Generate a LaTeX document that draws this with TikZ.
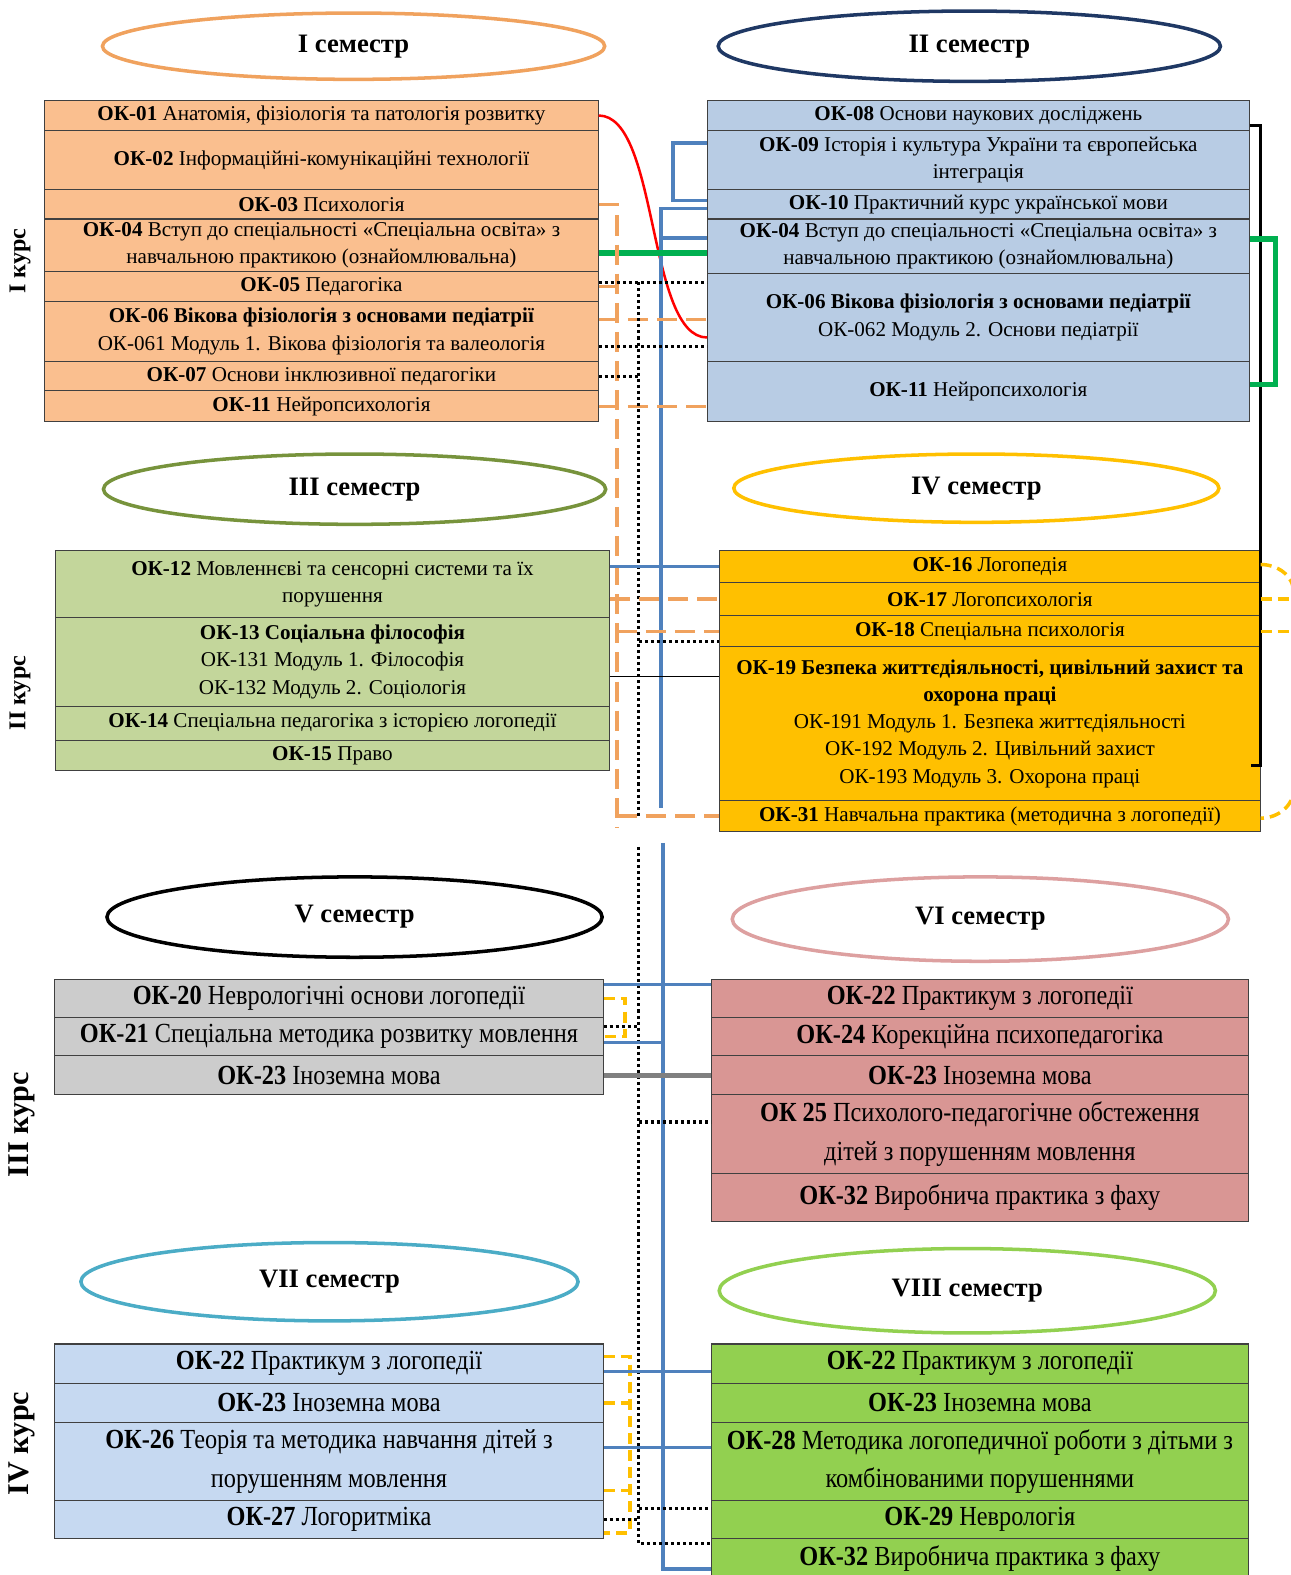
\documentclass[tikz,border=0pt]{standalone}
\usepackage{fontspec}
\setmainfont{Liberation Serif}
\newfontfamily\narrowserif{Liberation Serif}[FakeStretch=0.88]
\usetikzlibrary{shapes.geometric}
\definecolor{orFill}{HTML}{FABF8F}
\definecolor{orLine}{HTML}{F0A25E}
\definecolor{navyLine}{HTML}{1F3864}
\definecolor{bluFill}{HTML}{B8CCE4}
\definecolor{grnFill}{HTML}{C3D69B}
\definecolor{oliveLine}{HTML}{77933C}
\definecolor{gold}{HTML}{FFC000}
\definecolor{gryFill}{HTML}{CCCCCC}
\definecolor{pinkFill}{HTML}{D99694}
\definecolor{pinkLine}{HTML}{DDA0A0}
\definecolor{ltbFill}{HTML}{C6D9F1}
\definecolor{tealLine}{HTML}{4BACC6}
\definecolor{limeFill}{HTML}{92D050}
\definecolor{linkBlue}{HTML}{4F81BD}
\definecolor{linkGreen}{HTML}{00B050}
\newcommand\smallrow{\fontsize{21}{27}\selectfont}
\newcommand\bigrow{\narrowserif\fontsize{27.5}{38.5}\selectfont}
\begin{document}
\begin{tikzpicture}[x=1pt,y=-1pt,
    row/.style={draw=black!75, line width=1.2pt, outer sep=0pt, inner sep=0pt, align=center},
    tabI/.style={row, fill=orFill, minimum width=552pt, font=\smallrow},
    tabII/.style={row, fill=bluFill, minimum width=540pt, font=\smallrow},
    tabIII/.style={row, fill=grnFill, minimum width=552pt, font=\smallrow},
    tabIV/.style={row, fill=gold, minimum width=539pt, font=\smallrow},
    tabV/.style={row, fill=gryFill, minimum width=547pt, font=\bigrow},
    tabVI/.style={row, fill=pinkFill, minimum width=535pt, font=\bigrow},
    tabVII/.style={row, fill=ltbFill, minimum width=547pt, font=\bigrow},
    tabVIII/.style={row, fill=limeFill, minimum width=535pt, font=\bigrow},
    sem/.style={ellipse, line width=3.5pt, inner sep=0pt, font=\fontsize{26.5}{30}\selectfont\bfseries},
    kurs/.style={rotate=90, font=\fontsize{24}{24}\selectfont\bfseries},
    bigkurs/.style={rotate=90, font=\fontsize{30}{30}\selectfont\bfseries},
    blueln/.style={draw=linkBlue, line width=3.5pt},
    dotln/.style={draw=black, line width=3pt, dash pattern=on 3pt off 3pt},
    orln/.style={draw=orLine, line width=3.5pt, dash pattern=on 20pt off 9pt},
    yelln/.style={draw=gold, line width=3.5pt, dash pattern=on 11pt off 6pt}]
  \useasboundingbox (0,0) rectangle (1285,1568);

  % I курс
  \node[sem, draw=orLine, minimum width=500pt, minimum height=66pt] (sem1) at (352,46) {I семестр};
  \node[sem, draw=navyLine, minimum width=500pt, minimum height=70pt] (sem2) at (965,46) {II семестр};
  \node[kurs] (k1) at (20,260) {I курс};

  \node[tabI, minimum height=30pt] (l01) at (320,115) {\textbf{ОК-01} Анатомія, фізіологія  та патологія розвитку};
  \node[tabI, minimum height=59pt] (l02) at (320,159.5) {\textbf{ОК-02} Інформаційні-комунікаційні технології};
  \node[tabI, minimum height=29pt] (l03) at (320,203.5) {\textbf{ОК-03} Психологія};
  \node[tabI, minimum height=52pt] (l04) at (320,244) {\textbf{ОК-04} Вступ до спеціальності «Спеціальна освіта» з\\навчальною практикою (ознайомлювальна)};
  \node[tabI, minimum height=30pt] (l05) at (320,285) {\textbf{ОК-05} Педагогіка};
  \node[tabI, minimum height=60pt] (l06) at (320,330) {\textbf{ОК-06 Вікова фізіологія з основами педіатрії}\\ОК-061 Модуль 1. Вікова фізіологія та валеологія};
  \node[tabI, minimum height=29pt] (l07) at (320,374.5) {\textbf{ОК-07} Основи інклюзивної педагогіки};
  \node[tabI, minimum height=31pt] (l11) at (320,404.5) {\textbf{ОК-11} Нейропсихологія};

  \node[tabII, minimum height=30pt] (r08) at (974,115) {\textbf{ОК-08} Основи наукових досліджень};
  \node[tabII, minimum height=59pt] (r09) at (974,159.5) {\textbf{ОК-09} Історія і культура України та європейська\\інтеграція};
  \node[tabII, minimum height=29pt] (r10) at (974,203.5) {\textbf{ОК-10} Практичний курс української мови};
  \node[tabII, minimum height=54pt] (r04) at (974,245) {\textbf{ОК-04} Вступ до спеціальності «Спеціальна освіта» з\\навчальною практикою (ознайомлювальна)};
  \node[tabII, minimum height=88pt] (r06) at (974,316) {\textbf{ОК-06 Вікова фізіологія з основами педіатрії}\\ОК-062 Модуль 2. Основи педіатрії};
  \node[tabII, minimum height=60pt] (r11) at (974,390) {\textbf{ОК-11} Нейропсихологія};

  % II курс
  \node[sem, draw=oliveLine, minimum width=500pt, minimum height=70pt] (sem3) at (353,487) {III семестр};
  \node[sem, draw=gold, minimum width=483pt, minimum height=68pt] (sem4) at (972,486) {IV семестр};
  \node[kurs] (k2) at (20,690) {II курс};

  \node[tabIII, minimum height=67pt] (m12) at (331,581.5) {\textbf{ОК-12} Мовленнєві та сенсорні системи та їх\\порушення};
  \node[tabIII, minimum height=88pt] (m13) at (331,659) {\textbf{ОК-13 Соціальна філософія}\\ОК-131 Модуль 1. Філософія\\ОК-132 Модуль 2. Соціологія};
  \node[tabIII, minimum height=34pt] (m14) at (331,720) {\textbf{ОК-14} Спеціальна педагогіка  з історією логопедії};
  \node[tabIII, minimum height=30pt] (m15) at (331,752) {\textbf{ОК-15} Право};

  \node[tabIV, minimum height=32pt] (r16) at (985.5,564) {\textbf{ОК-16} Логопедія};
  \node[tabIV, minimum height=33pt] (r17) at (985.5,596.5) {\textbf{ОК-17} Логопсихологія};
  \node[tabIV, minimum height=31pt] (r18) at (985.5,628.5) {\textbf{ОК-18} Спеціальна психологія};
  \node[tabIV, minimum height=153pt] (r19) at (985.5,720.5) {\textbf{ОК-19 Безпека життєдіяльності, цивільний захист та}\\\textbf{охорона праці}\\ОК-191 Модуль 1. Безпека життєдіяльності\\ОК-192 Модуль 2. Цивільний захист\\ОК-193 Модуль 3. Охорона праці};
  \node[tabIV, minimum height=31pt] (r31) at (985.5,812.5) {\textbf{ОК-31} Навчальна практика (методична з логопедії)};

  % III курс
  \node[sem, draw=black, minimum width=493pt, minimum height=80pt] (sem5) at (353,913) {V семестр};
  \node[sem, draw=pinkLine, minimum width=494pt, minimum height=84pt] (sem6) at (976,915) {VI семестр};
  \node[bigkurs] (k3) at (22,1120) {III курс};

  \node[tabV, minimum height=38pt] (s20) at (327.5,994) {\textbf{ОК-20} Неврологічні основи логопедії};
  \node[tabV, minimum height=38pt] (s21) at (327.5,1032) {\textbf{ОК-21} Спеціальна методика розвитку мовлення};
  \node[tabV, minimum height=39pt] (s23) at (327.5,1070.5) {\textbf{ОК-23} Іноземна мова};

  \node[tabVI, minimum height=38pt] (t22) at (975.5,994) {\textbf{ОК-22} Практикум з логопедії};
  \node[tabVI, minimum height=38pt] (t24) at (975.5,1032) {\textbf{ОК-24} Корекційна психопедагогіка};
  \node[tabVI, minimum height=39pt] (t23) at (975.5,1070.5) {\textbf{ОК-23} Іноземна мова};
  \node[tabVI, minimum height=78pt] (t25) at (975.5,1129) {\textbf{ОК 25} Психолого-педагогічне обстеження\\дітей з порушенням мовлення};
  \node[tabVI, minimum height=48pt] (t32) at (975.5,1192) {\textbf{ОК-32} Виробнича практика з фаху};

  % IV курс
  \node[sem, draw=tealLine, minimum width=495pt, minimum height=78pt] (sem7) at (328,1276) {VII семестр};
  \node[sem, draw=limeFill, minimum width=494pt, minimum height=84pt] (sem8) at (963,1285) {VIII семестр};
  \node[bigkurs] (k4) at (22,1437) {IV курс};

  \node[tabVII, minimum height=39pt] (u22) at (327.5,1357.5) {\textbf{ОК-22} Практикум з логопедії};
  \node[tabVII, minimum height=39pt] (u23) at (327.5,1396.5) {\textbf{ОК-23} Іноземна мова};
  \node[tabVII, minimum height=78pt] (u26) at (327.5,1455) {\textbf{ОК-26} Теорія та методика навчання дітей з\\порушенням мовлення};
  \node[tabVII, minimum height=38pt] (u27) at (327.5,1513) {\textbf{ОК-27} Логоритміка};

  \node[tabVIII, minimum height=39pt] (v22) at (975.5,1357.5) {\textbf{ОК-22} Практикум з логопедії};
  \node[tabVIII, minimum height=39pt] (v23) at (975.5,1396.5) {\textbf{ОК-23} Іноземна мова};
  \node[tabVIII, minimum height=78pt] (v28) at (975.5,1455) {\textbf{ОК-28} Методика логопедичної роботи з дітьми з\\комбінованими порушеннями};
  \node[tabVIII, minimum height=38pt] (v29) at (975.5,1513) {\textbf{ОК-29} Неврологія};
  \node[tabVIII, minimum height=40pt] (v32) at (975.5,1552) {\textbf{ОК-32} Виробнича практика з фаху};

  % trunk ends
  \coordinate (ov) at (614,824);
  \coordinate (dv1) at (636,814);
  \coordinate (bv1) at (658,804);
  \coordinate (dv2top) at (636,843);
  \coordinate (bv2top) at (660,839);

  % links, first year
  \draw[red, line width=2.5pt] (l01.east) .. controls +(60,0) and +(-60,0) .. ([yshift=-20pt]r06.west);
  \draw[blueln] ([yshift=17pt]r09.west) -- ++(-34,0) |- ([yshift=4pt]r10.west);
  \draw[blueln] ([yshift=-4pt]r10.west) -| (bv1);
  \draw[blueln] ([yshift=8pt]r04.west) -- ([yshift=8pt]r04.west -| bv1);
  \draw[linkGreen, line width=5.5pt] ([yshift=-8pt]l04.east) -- ([yshift=-8pt]l04.east -| r04.west);
  \draw[orln] (l03.east) -- (l03.east -| ov) -- (ov);
  \draw[orln] (l05.east) -- (l05.east -| ov);
  \draw[orln] ([yshift=12pt]l06.east) -- ([yshift=12pt]l06.east -| r06.west);
  \draw[orln] (l11.east) -- (l11.east -| r11.west);
  \draw[dotln] ([yshift=4pt]l05.east) -- ([yshift=4pt]l05.east -| r06.west);
  \draw[dotln] ([yshift=4pt]l05.east -| dv1) -- (dv1);
  \draw[dotln] ([yshift=-15pt]l06.east) -- ([yshift=-15pt]l06.east -| r06.west);
  \draw[dotln] (l07.east) -- (l07.east -| dv1);
  \draw[black, line width=3pt] ([yshift=-10pt]r08.east) -- ([yshift=-10pt]r08.east -| r19.east) -- ([yshift=-42pt]r19.east) -- ++(-10,0);
  \draw[linkGreen, line width=5.5pt] ([yshift=7pt]r04.east) -- ++(26,0) |- ([yshift=7pt]r11.east);

  % links, second year
  \draw[blueln] (r16.west -| m12.east) -- (r16.west);
  \draw[orln] (r17.west -| m12.east) -- (r17.west);
  \draw[orln] (r18.west -| ov) -- (r18.west);
  \draw[dotln] ([yshift=-10pt]r18.west -| dv1) -- ([yshift=-10pt]r18.west);
  \draw[black, line width=1pt] ([yshift=-14pt]m13.east) -- ([yshift=-14pt]m13.east -| r19.west);
  \draw[orln] (r31.west -| ov) -- (r31.west);
  \draw[yelln] ([yshift=2pt]r16.east) to[out=0,in=90] ++(33,28) -- ++(0,195) to[out=-90,in=0] ([yshift=-2pt]r31.east);
  \draw[yelln] (r17.east) -- ++(35,0);
  \draw[yelln] (r18.east) -- ++(35,0);

  % links, third and fourth year
  \draw[blueln] (bv2top) |- ([yshift=-10pt]v32.west);
  \draw[dotln] (dv2top) |- ([yshift=15pt]v32.west);
  \draw[blueln] ([yshift=14pt]s20.east) -- ([yshift=14pt]s20.east -| t22.west);
  \draw[yelln] (s20.east) -- ++(21,0) |- (s21.east);
  \draw[dotln] ([yshift=10pt]s21.east) -- ([yshift=10pt]s21.east -| dv2top);
  \draw[blueln] ([yshift=-6pt]s21.east) -- ([yshift=-6pt]s21.east -| bv2top);
  \draw[gray, line width=5.5pt] (s23.east) -- (s23.east -| t23.west);
  \draw[dotln] ([yshift=12pt]t25.west -| dv2top) -- ([yshift=12pt]t25.west);
  \draw[yelln] ([yshift=7pt]u22.east) -- ++(26,0) |- ([yshift=-13pt]u27.east);
  \draw[yelln] (u23.east) -- ++(24,0);
  \draw[yelln] ([yshift=-29pt]u26.east) -- ++(24,0);
  \draw[blueln] ([yshift=-8pt]u22.east) -- ([yshift=-8pt]u22.east -| v22.west);
  \draw[blueln] ([yshift=14pt]u26.east) -- ([yshift=14pt]u26.east -| v28.west);
  \draw[dotln] ([yshift=11pt]v29.west -| dv2top) -- ([yshift=11pt]v29.west);
  \draw[dotln] (u27.east) -- (u27.east -| dv2top);
\end{tikzpicture}
\end{document}
